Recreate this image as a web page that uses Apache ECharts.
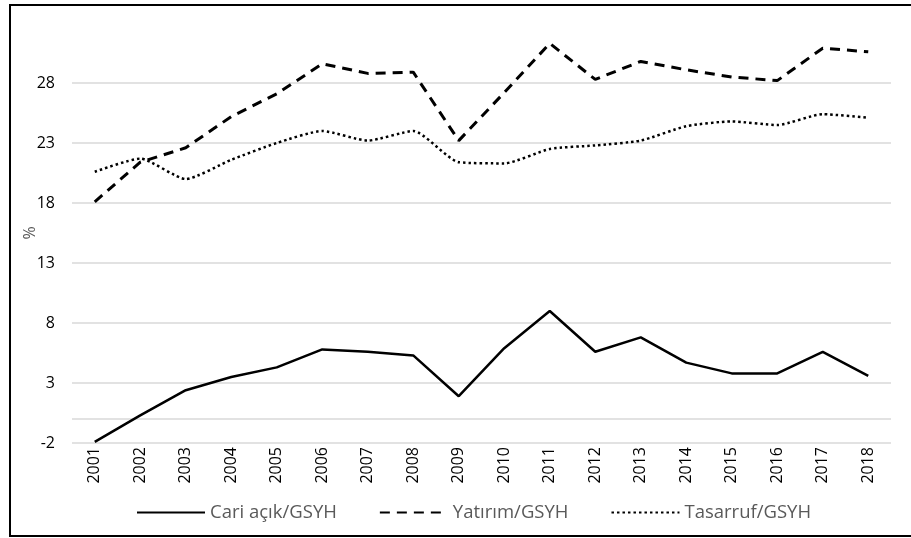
<!DOCTYPE html>
<html>
<head>
<meta charset="utf-8">
<script src="https://cdn.jsdelivr.net/npm/echarts@6/dist/echarts.min.js"></script>
<style>
  html, body { margin: 0; padding: 0; background: #ffffff; }
  #chart { width: 911px; height: 538px; }
</style>
</head>
<body>
<div id="chart"></div>
<script>
// Years on the category axis
const years = ['2001','2002','2003','2004','2005','2006','2007','2008','2009',
               '2010','2011','2012','2013','2014','2015','2016','2017','2018'];

// Ratios to GDP, in percent
const cariAcik = [-1.9, 0.3, 2.4, 3.5, 4.3, 5.8, 5.6, 5.3, 1.9,
                  5.9, 9.0, 5.6, 6.8, 4.7, 3.8, 3.8, 5.6, 3.6];
const yatirim  = [18.1, 21.4, 22.6, 25.2, 27.1, 29.6, 28.8, 28.9, 23.2,
                  27.2, 31.3, 28.3, 29.8, 29.1, 28.5, 28.2, 30.9, 30.6];
const tasarruf = [20.6, 21.7, 20.0, 21.6, 23.0, 24.0, 23.2, 24.0, 21.4,
                  21.3, 22.5, 22.8, 23.2, 24.4, 24.8, 24.5, 25.4, 25.1];

const seriesNames = ['Cari açık/GSYH', 'Yatırım/GSYH', 'Tasarruf/GSYH'];

// Value axis settings
const yMin = -2, yMax = 33, yStep = 5;

const FONT = '"Open Sans", sans-serif';
const GRID_COLOR = '#d9d9d9';

const chart = echarts.init(document.getElementById('chart'), null, { renderer: 'canvas' });

// One colour per split line; the last one (at the top edge) is left invisible
const splitColors = [];
for (let v = yMin; v < yMax; v += yStep) splitColors.push(GRID_COLOR);
splitColors.push('rgba(0,0,0,0)');

chart.setOption({
  backgroundColor: '#ffffff',
  animation: false,
  graphic: [{
    type: 'rect',
    shape: { x: 10, y: 5, width: 910, height: 531 },
    style: { fill: 'none', stroke: '#000000', lineWidth: 2 },
    silent: true,
    z: 100
  }],
  grid: { left: 72, right: 20, top: 23, bottom: 95, containLabel: false },
  legend: {
    bottom: 11,
    left: 131,
    itemWidth: 68,
    itemHeight: 14,
    itemGap: 42,
    itemStyle: { color: 'rgba(0,0,0,0)', borderWidth: 0 },
    textStyle: { color: '#595959', fontSize: 18.5, fontFamily: FONT },
    data: seriesNames
  },
  xAxis: {
    type: 'category',
    data: years,
    boundaryGap: true,
    axisLine: { show: false },
    axisTick: { show: false },
    axisLabel: {
      rotate: 90,
      color: '#000000',
      fontSize: 16,
      fontFamily: FONT,
      margin: 4,
      interval: 0
    },
    splitLine: { show: false }
  },
  yAxis: {
    type: 'value',
    min: yMin,
    max: yMax,
    interval: yStep,
    name: '%',
    nameLocation: 'middle',
    nameGap: 34,
    nameMoveOverlap: false,
    nameRotate: 90,
    nameTextStyle: { color: '#595959', fontSize: 16, fontFamily: FONT },
    axisLine: { show: false },
    axisTick: { show: false },
    axisLabel: {
      color: '#000000',
      fontSize: 16,
      fontFamily: FONT,
      margin: 17,
      showMaxLabel: false
    },
    splitLine: { show: true, lineStyle: { color: splitColors, width: 1.5 } }
  },
  series: [
    {
      name: seriesNames[0],
      type: 'line',
      data: cariAcik,
      symbol: 'none',
      z: 3,
      lineStyle: { color: '#000000', width: 2.5, type: 'solid' },
      itemStyle: { color: '#000000' },
      // horizontal axis line crossing at zero
      markLine: {
        silent: true,
        symbol: 'none',
        label: { show: false },
        lineStyle: { color: GRID_COLOR, width: 1.5, type: 'solid' },
        data: [{ yAxis: 0 }],
        z: 1
      }
    },
    {
      name: seriesNames[1],
      type: 'line',
      data: yatirim,
      symbol: 'none',
      z: 3,
      lineStyle: { color: '#000000', width: 3, type: [10, 7], cap: 'butt' },
      itemStyle: { color: '#000000' }
    },
    {
      name: seriesNames[2],
      type: 'line',
      data: tasarruf,
      symbol: 'none',
      smooth: 0.2,
      z: 3,
      lineStyle: { color: '#000000', width: 2.5, type: [2.5, 3], cap: 'butt' },
      itemStyle: { color: '#000000' }
    }
  ]
});
</script>
</body>
</html>
